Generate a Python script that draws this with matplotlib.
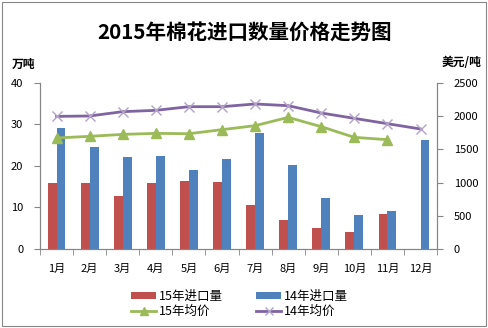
import matplotlib
matplotlib.use('Agg')
import matplotlib.pyplot as plt
import numpy as np
from matplotlib.patches import Rectangle

plt.rcParams['font.family'] = ['Noto Sans CJK SC', 'DejaVu Sans']

months = ['1月', '2月', '3月', '4月', '5月', '6月', '7月', '8月', '9月', '10月', '11月', '12月']
imp15 = [16.0, 15.8, 12.8, 16.0, 16.3, 16.1, 10.5, 6.9, 5.1, 4.2, 8.4, np.nan]
imp14 = [29.1, 24.5, 22.1, 22.3, 19.0, 21.7, 27.9, 20.3, 12.3, 8.1, 9.2, 26.3]
price15 = [1672, 1696, 1726, 1741, 1736, 1797, 1857, 1982, 1842, 1681, 1646, np.nan]
price14 = [1997, 2003, 2068, 2088, 2143, 2143, 2184, 2158, 2048, 1967, 1887, 1807]

red = '#C0504D'
blue = '#4F81BD'
green = '#9BBB59'
purple = '#8064A2'
gray = '#868686'

fig = plt.figure(figsize=(4.89, 3.28), dpi=100)
fig.patches.append(Rectangle((0.004, 0.006), 0.99, 0.988, transform=fig.transFigure,
                             fill=False, edgecolor=gray, lw=0.8))
ax = fig.add_axes([0.0818, 0.241, 0.812, 0.506])
ax2 = ax.twinx()

x = np.arange(len(months))
w = 0.27
b1 = ax.bar(x - w / 2, imp15, w, color=red, label='15年进口量')
b2 = ax.bar(x + w / 2, imp14, w, color=blue, label='14年进口量')

l1, = ax2.plot(x, price15, color=green, lw=2, marker='^', ms=7, label='15年均价')
l2, = ax2.plot(x, price14, color=purple, lw=2, marker='x', ms=7,
               mec='#B3A2C7', mew=1, label='14年均价')

ax.set_xlim(-0.5, 11.5)
ax.set_ylim(0, 40)
ax.set_yticks([0, 10, 20, 30, 40])
ax2.set_ylim(0, 2500)
ax2.set_yticks([0, 500, 1000, 1500, 2000, 2500])

ax.set_xticks(x)
ax.set_xticklabels(months)
ax.set_xticks(np.arange(-0.5, 12, 1), minor=True)
ax.tick_params(axis='x', which='major', length=0, labelsize=8, pad=11)
ax.tick_params(axis='x', which='minor', length=4, color=gray, direction='out')
ax.tick_params(axis='y', labelsize=8, length=4, color=gray, pad=8)
ax2.tick_params(axis='y', labelsize=8, length=4, color=gray, pad=8)

for a in (ax, ax2):
    a.spines['top'].set_visible(False)
    for s in ('left', 'right', 'bottom'):
        a.spines[s].set_color(gray)
        a.spines[s].set_linewidth(0.8)

fig.text(0.5, 0.903, '2015年棉花进口数量价格走势图', ha='center', va='center',
         fontsize=14.8, fontweight='bold')
fig.text(0.024, 0.805, '万吨', fontsize=8.5, fontweight='bold', ha='left', va='center')
fig.text(0.985, 0.81, '美元/吨', fontsize=8.5, fontweight='bold', ha='right', va='center')

fig.legend([b1, l1, b2, l2], ['15年进口量', '15年均价', '14年进口量', '14年均价'],
           loc='lower left', bbox_to_anchor=(0.268, 0.032), ncol=2, frameon=False,
           fontsize=9, handlelength=2.0, handleheight=0.5, columnspacing=2.7,
           labelspacing=0.15, handletextpad=0.2, borderpad=0, borderaxespad=0,
           markerscale=0.8)

fig.savefig('out.png', dpi=100)
